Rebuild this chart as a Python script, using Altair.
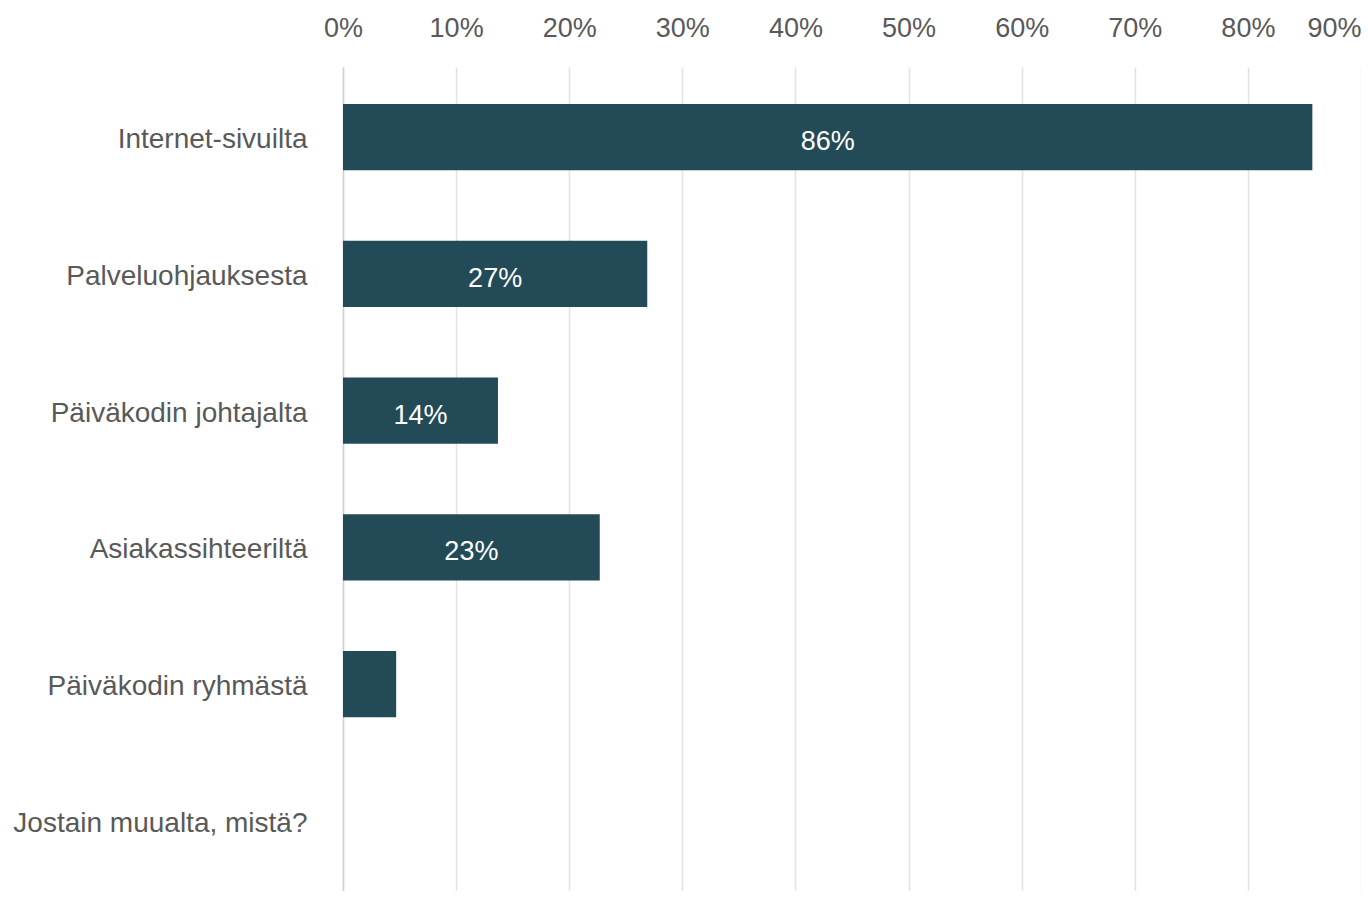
import altair as alt
import pandas as pd

categories = [
    "Internet-sivuilta",
    "Palveluohjauksesta",
    "Päiväkodin johtajalta",
    "Asiakassihteeriltä",
    "Päiväkodin ryhmästä",
    "Jostain muualta, mistä?",
]
values = [0.857, 0.269, 0.137, 0.227, 0.047, 0.0]
x_ticks = [0.0, 0.1, 0.2, 0.3, 0.4, 0.5, 0.6, 0.7, 0.8, 0.9]

df = pd.DataFrame({"cat": categories, "val": values})

FONT = "Liberation Sans"
LABEL_COLOR = "#595959"
BAR_COLOR = "#234b57"

y_enc = alt.Y(
    "cat:N",
    sort=categories,
    title=None,
    scale=alt.Scale(paddingInner=0.515, paddingOuter=0.27),
    axis=alt.Axis(
        orient="left",
        ticks=False,
        domain=True,
        domainColor="#c8d0e6",
        domainWidth=1.5,
        grid=False,
        labelFont=FONT,
        labelFontSize=28,
        labelColor=LABEL_COLOR,
        labelPadding=36,
        labelLimit=500,
        labelOffset=3,
    ),
)

x_scale = alt.Scale(domain=[0, 0.9], nice=False, zero=True)

bars = alt.Chart(df).mark_bar(color=BAR_COLOR).encode(
    x=alt.X(
        "val:Q",
        scale=x_scale,
        title=None,
        axis=alt.Axis(
            orient="top",
            values=x_ticks,
            format=".0%",
            ticks=False,
            domain=False,
            grid=True,
            gridColor="#e3e3e3",
            gridWidth=1.5,
            labelFont=FONT,
            labelFontSize=27,
            labelColor=LABEL_COLOR,
            labelPadding=25,
            labelAlign=alt.ExprRef(expr="datum.value >= 0.89 ? 'right' : 'center'"),
        ),
    ),
    y=y_enc,
)

text = (
    alt.Chart(df)
    .transform_filter("datum.val >= 0.1")
    .transform_calculate(mid="datum.val / 2")
    .mark_text(color="white", font=FONT, fontSize=27, baseline="middle", align="center", dy=5)
    .encode(
        x=alt.X("mid:Q", scale=x_scale, title=None),
        y=alt.Y("cat:N", sort=categories, title=None),
        text=alt.Text("val:Q", format=".0%"),
    )
)

chart = (
    alt.layer(bars, text)
    .properties(
        width=1018,
        height=824,
        padding={"left": 4, "top": 6, "right": 0, "bottom": 0},
    )
    .configure_view(stroke=None)
)

chart.save("out.html", embed_options={"renderer": "svg", "actions": False})
